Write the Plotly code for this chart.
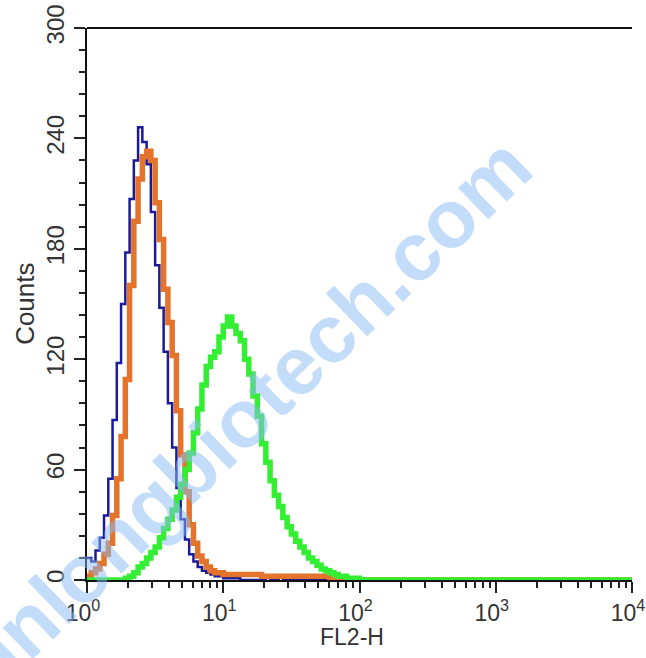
import numpy as np
import plotly.graph_objects as go

# ---- data (counts per channel) ----
decades = 4
channels = 128
blue_counts = [12, 10, 16, 23, 35, 55, 87, 118, 150, 178, 207, 228, 246, 238, 226, 200,
               171, 148, 124, 96, 72, 50, 33, 22, 14, 10, 7, 5, 4, 3, 2, 2,
               1, 1, 1, 1, 0, 0, 0, 0, 0, 0, 2, 0, 0, 2, 0, 0]
orange_counts = [2, 4, 6, 9, 14, 20, 35, 55, 78, 109, 160, 195, 218, 230, 233, 228,
                 205, 185, 158, 140, 122, 92, 68, 48, 30, 20, 13, 10, 7, 5, 4, 4,
                 3, 3, 3, 3, 3, 3, 3, 3, 3, 2, 2, 2, 2, 2, 2, 2,
                 2, 2, 2, 2, 2, 2, 2, 2, 2, 0]
green_counts = [0, 0, 0, 0, 0, 0, 0, 0, 0, 1, 2, 4, 7, 9, 12, 15,
                18, 23, 28, 33, 38, 45, 52, 60, 69, 80, 93, 106, 116, 121, 124, 132,
                138, 143, 138, 134, 130, 120, 112, 100, 89, 74, 64, 54, 46, 40, 34, 29,
                25, 21, 18, 15, 12, 10, 8, 6, 5, 4, 3, 2, 2, 1, 1, 1, 0]

x_tick_vals = [1, 10, 100, 1000, 10000]
x_tick_text = ["10<sup>0</sup>", "10<sup>1</sup>", "10<sup>2</sup>", "10<sup>3</sup>", "10<sup>4</sup>"]
y_tick_vals = [0, 60, 120, 180, 240, 300]
x_title = "FL2-H"
y_title = "Counts"
watermark = "sunlongbiotech.com"


def step_xy(counts):
    n = len(counts)
    edges = 10 ** (np.arange(channels + 1) * decades / channels)
    ys = list(counts) + [0] * (channels - n)
    xs = list(edges[:-1]) + [edges[-1]]
    ys = ys + [ys[-1]]
    return xs, ys


fig = go.Figure()
for counts, color, width in [(blue_counts, "#1a1a9a", 2.5),
                             (orange_counts, "#e4742c", 5.5),
                             (green_counts, "#33ee33", 5.5)]:
    xs, ys = step_xy(counts)
    fig.add_trace(go.Scatter(x=xs, y=ys, mode="lines", line=dict(color=color, width=width, shape="hv"),
                             showlegend=False, hoverinfo="skip", cliponaxis=False))

minor_x = [m * 10 ** d for d in range(4) for m in range(2, 10)]
minor_y = [v for v in range(0, 301, 12) if v % 60 != 0]

font_family = "Liberation Sans, Arial, sans-serif"
text_color = "#333333"
fig.update_layout(
    width=646, height=658,
    margin=dict(l=87, r=14, t=28, b=78),
    paper_bgcolor="white", plot_bgcolor="white",
    font=dict(family=font_family, color=text_color),
    xaxis=dict(type="log", range=[0, 4], showgrid=False, zeroline=False, automargin=False,
               showline=True, linecolor="#111111", linewidth=2,
               ticks="outside", ticklen=11, tickwidth=2, tickcolor="#222222",
               tickvals=x_tick_vals, ticktext=x_tick_text, ticklabeloverflow="allow",
               ticklabelshift=-4,
               tickfont=dict(size=23, color=text_color),
               minor=dict(tickvals=minor_x, ticks="outside", ticklen=6, tickwidth=2, tickcolor="#222222")),
    yaxis=dict(range=[0, 300], showgrid=False, zeroline=False, automargin=False,
               showline=True, linecolor="#111111", linewidth=2,
               ticks="outside", ticklen=11, tickwidth=2, tickcolor="#222222",
               tickvals=y_tick_vals, tickangle=-90, ticklabeloverflow="allow",
               tickfont=dict(size=24, color=text_color),
               minor=dict(tickvals=minor_y, ticks="outside", ticklen=6, tickwidth=2, tickcolor="#222222")),
)
# top frame line
fig.add_shape(type="line", xref="paper", yref="paper", x0=0, x1=1, y0=1, y1=1,
              line=dict(color="#111111", width=2))
# axis titles
fig.add_annotation(text=y_title, xref="paper", yref="paper", x=-0.114, y=0.5,
                   xanchor="center", yanchor="middle", showarrow=False, textangle=-90,
                   font=dict(size=26, color=text_color))
fig.add_annotation(text=x_title, xref="paper", yref="paper", x=0.486, y=-0.103,
                   xanchor="center", yanchor="middle", showarrow=False,
                   font=dict(size=23, color=text_color))
# watermark
fig.add_annotation(text="<b>" + watermark + "</b>", xref="paper", yref="paper", x=0.26, y=0.27,
                   xanchor="center", yanchor="middle",
                   showarrow=False, textangle=-44,
                   font=dict(size=82, color="rgba(135,185,245,0.5)", family=font_family))

fig.write_html("out.html", config={"displayModeBar": False},
               post_script="document.body.style.margin='0px';document.body.style.overflow='hidden';")
